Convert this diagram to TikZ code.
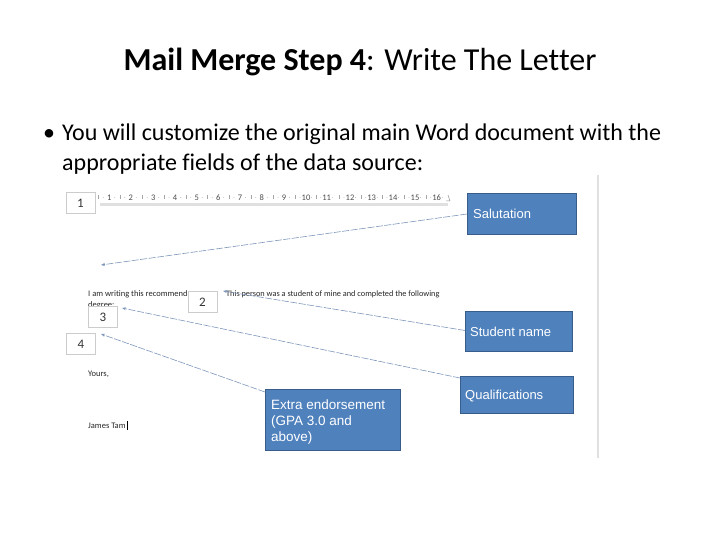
\documentclass[tikz,border=0pt]{standalone}
\usepackage{fontspec}
\setmainfont[Ligatures=CommonOff]{Carlito}
\newfontfamily\arialf{Liberation Sans}
\usetikzlibrary{arrows.meta,calc}
\definecolor{boxblue}{HTML}{4F81BD}
\definecolor{boxedge}{HTML}{385D8A}
\definecolor{connc}{RGB}{125,150,185}
\begin{document}
\begin{tikzpicture}[x=1pt,y=-1pt,
  bluebox/.style={draw=boxedge,fill=boxblue,line width=1pt,text=white,anchor=north west,inner sep=0pt},
  boxlabel/.style={anchor=west,text=white,font=\arialf\fontsize{13}{16}\selectfont,inner sep=0pt},
  numbox/.style={draw=black!20,fill=white,line width=0.6pt,font=\fontsize{13}{13}\selectfont,text=black!80,minimum width=29pt,minimum height=21pt,inner sep=0pt},
  conn/.style={draw=connc,line width=0.6pt,dash pattern=on 7pt off 1.5pt,-{Stealth[length=4pt,width=3pt]}},
  lettertext/.style={font=\fontsize{8.5}{9}\selectfont,anchor=base west,inner sep=0pt,text=black!85},
  bodytext/.style={anchor=base west,inner sep=0pt,font=\fontsize{24}{28}\selectfont}]
\useasboundingbox (0,0) rectangle (720,540);
% title
\node[anchor=base,inner sep=0pt,font=\fontsize{32}{34}\selectfont] (title) at (360,71) {\textbf{Mail Merge Step 4}: Write The Letter};
% bullet
\node[bodytext] (bul) at (43,141) {\textbullet};
\node[bodytext] (l1) at (62,141) {You will customize the original main Word document with the};
\node[bodytext] (l2) at (62,171) {appropriate fields of the data source:};
% screenshot right edge
\draw[black!12,line width=2pt] (598,175) coordinate (e1) -- (598,458) coordinate (e2);
% ruler
\fill[black!12] (100,203) rectangle (448,206);
\foreach \n/\xx in {1/109.3,2/130.7,3/153.3,4/175,5/196.7,6/218.3,7/240,8/261.7,9/284,10/306,11/326.7,12/350,13/371.7,14/393,15/415,16/436.7}{
  \node[font=\fontsize{8.5}{8}\selectfont,text=black!70,inner sep=0pt] (r\n) at (\xx,197.5) {\n};
  \draw[black!35,line width=0.4pt] (\xx-10.8,195.5) -- (\xx-10.8,199.5);
  \fill[black!35] (\xx-6,197.5) circle (0.4pt);
  \fill[black!35] (\xx+5.5,197.5) circle (0.4pt);
}
\draw[black!40,line width=0.5pt] (446,201) -- (450,201) -- (448,195);
% letter text
\node[lettertext] (lt1) at (88,296) {I am writing this recommend};
\node[lettertext,font=\fontsize{8.3}{9}\selectfont] (lt2) at (226,296) {This person was a student of mine and completed the following};
\node[lettertext] (lt3) at (88,307) {degree:};
\node[lettertext] (lt4) at (88,376) {Yours,};
\node[lettertext] (lt5) at (88,428) {James Tam};
\draw[black,line width=0.5pt] (lt5.base east)++(1,1.5) -- ++(0,-9);
% number boxes
\node[numbox] (n1) at (80.5,203) {1};
\node[numbox] (n2) at (202.5,302) {2};
\node[numbox] (n3) at (103,317) {3};
\node[numbox] (n4) at (81,344) {4};
% blue boxes
\node[bluebox,minimum width=109pt,minimum height=41pt] (sal) at (467,193) {};
\node[boxlabel] (salt) at (473,214) {Salutation};
\node[bluebox,minimum width=107pt,minimum height=40pt] (sn) at (465,311) {};
\node[boxlabel] (snt) at (470,332) {Student name};
\node[bluebox,minimum width=113pt,minimum height=37pt] (qu) at (460,376) {};
\node[boxlabel] (qut) at (465,396) {Qualifications};
\node[bluebox,minimum width=135pt,minimum height=61pt] (ee) at (265,389) {};
\node[anchor=north west,align=left,text=white,font=\arialf\fontsize{13.5}{16}\selectfont,inner sep=0pt] (eet) at (271,399.5) {Extra endorsement\\(GPA 3.0 and\\above)};
% connector targets
\coordinate (t1) at (101,265);
\coordinate (t2) at (223,291);
\coordinate (t3) at (122,308);
\coordinate (t4) at (101,334);
\draw[conn] (sal.west) -- (t1);
\draw[conn] ($(sn.west)+(0,-1)$) -- (t2);
\draw[conn] ($(qu.north west)+(0,2)$) -- (t3);
\draw[conn] ($(ee.north west)+(0,3)$) -- (t4);
\end{tikzpicture}
\end{document}
